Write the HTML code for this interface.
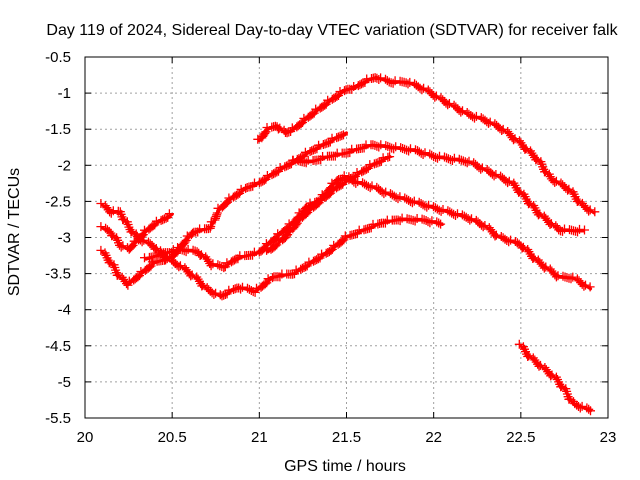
<!DOCTYPE html>
<html><head><meta charset="utf-8"><style>
body{margin:0;background:#fff;}
svg{display:block;font-family:"Liberation Sans",sans-serif;}
</style></head><body>
<svg id="chart" width="640" height="480" viewBox="0 0 640 480">
<rect width="640" height="480" fill="#fff"/>
<text x="332" y="35" font-size="16" text-anchor="middle">Day 119 of 2024, Sidereal Day-to-day VTEC variation (SDTVAR) for receiver falk</text>
<text transform="translate(19,232) rotate(-90)" font-size="16" text-anchor="middle">SDTVAR / TECUs</text>
<text x="345" y="471" font-size="16" text-anchor="middle">GPS time / hours</text>
<g id="grid"></g>
<g id="axes"></g>
<g id="series"></g>
</svg>
<script>
const xTicks=[20,20.5,21,21.5,22,22.5,23];
const xTickLabels=["20","20.5","21","21.5","22","22.5","23"];
const yTicks=[-0.5,-1,-1.5,-2,-2.5,-3,-3.5,-4,-4.5,-5,-5.5];
const yTickLabels=["-0.5","-1","-1.5","-2","-2.5","-3","-3.5","-4","-4.5","-5","-5.5"];
const t1x=[21.0,21.05,21.1,21.15,21.2,21.3,21.4,21.5,21.55,21.6,21.67,21.75,21.85,21.95,22.05,22.2,22.3,22.4,22.5,22.6,22.67,22.78,22.85,22.92];
const t1y=[-1.66,-1.5,-1.45,-1.56,-1.5,-1.3,-1.12,-0.95,-0.93,-0.85,-0.78,-0.85,-0.85,-0.95,-1.1,-1.3,-1.38,-1.51,-1.7,-1.93,-2.18,-2.34,-2.55,-2.66];
const t2x=[20.1,20.15,20.2,20.25,20.3,20.4,20.5,20.55,20.62,20.72,20.77,20.83,20.93,21.0,21.1,21.2,21.3,21.4,21.5,21.6,21.65,21.75,21.9,22.0,22.2,22.35,22.45,22.5,22.6,22.72,22.86];
const t2y=[-3.2,-3.35,-3.55,-3.65,-3.55,-3.35,-3.27,-3.13,-2.93,-2.87,-2.62,-2.48,-2.31,-2.25,-2.09,-1.95,-1.95,-1.88,-1.83,-1.75,-1.72,-1.75,-1.8,-1.88,-1.95,-2.13,-2.25,-2.38,-2.66,-2.9,-2.91];
const t3x=[21.2,21.3,21.4,21.5];
const t3y=[-1.95,-1.8,-1.68,-1.55];
const t4x=[20.1,20.15,20.2,20.25,20.3,20.4,20.47,20.55,20.65,20.7,20.78,20.88,20.98,21.08,21.2,21.3,21.4,21.5,21.6,21.7,21.8,21.95,22.05];
const t4y=[-2.55,-2.65,-2.65,-2.85,-3.0,-3.13,-3.3,-3.4,-3.59,-3.72,-3.82,-3.69,-3.75,-3.55,-3.5,-3.35,-3.2,-3.0,-2.9,-2.8,-2.75,-2.76,-2.82];
const t5x=[20.1,20.15,20.2,20.25,20.3,20.35,20.4,20.45,20.5];
const t5y=[-2.87,-2.93,-3.1,-3.17,-3.05,-2.92,-2.82,-2.75,-2.68];
const t6x=[20.35,20.45,20.55,20.65,20.73,20.8,20.87,21.0,21.08,21.2,21.27,21.35,21.45,21.5,21.55,21.65,21.75,22.0,22.2,22.3,22.37,22.5,22.6,22.72,22.8,22.9];
const t6y=[-3.3,-3.22,-3.17,-3.2,-3.38,-3.41,-3.29,-3.21,-3.04,-2.79,-2.58,-2.48,-2.2,-2.16,-2.23,-2.3,-2.41,-2.59,-2.73,-2.85,-2.99,-3.1,-3.34,-3.55,-3.56,-3.71];
const t7x=[21.05,21.15,21.25,21.35,21.45,21.55,21.65,21.75];
const t7y=[-3.2,-3.0,-2.71,-2.5,-2.3,-2.15,-2.0,-1.88];
const t8x=[22.5,22.55,22.6,22.7,22.75,22.8,22.9];
const t8y=[-4.5,-4.65,-4.75,-4.95,-5.1,-5.3,-5.4];

const L=85,R=608,T=57,B=418;
const xs=v=>L+(v-20)/3*(R-L);
const ys=v=>T+(-0.5-v)/5*(B-T);
const NS="http://www.w3.org/2000/svg";
function mk(tag,attrs,parent){const e=document.createElementNS(NS,tag);for(const k in attrs)e.setAttribute(k,attrs[k]);parent.appendChild(e);return e;}
const grid=document.getElementById('grid'),axes=document.getElementById('axes'),ser=document.getElementById('series');
xTicks.forEach((v,i)=>{const x=xs(v);
 if(i>0&&i<xTicks.length-1){const g=mk('line',{x1:x,x2:x,y1:T,y2:B,stroke:'#a0a0a0','stroke-dasharray':'2,3'},grid);
 
 }
 mk('line',{x1:x,x2:x,y1:B,y2:B-6,stroke:'#000'},axes);
 mk('line',{x1:x,x2:x,y1:T,y2:T+6,stroke:'#000'},axes);
 const t=mk('text',{x:x,y:B+24,'font-size':15,'text-anchor':'middle'},axes);t.textContent=xTickLabels[i];
 
 
});
yTicks.forEach((v,i)=>{const y=ys(v);
 if(i>0&&i<yTicks.length-1){const g=mk('line',{x1:L,x2:R,y1:y,y2:y,stroke:'#a0a0a0','stroke-dasharray':'2,3'},grid);
 
 }
 mk('line',{x1:L,x2:L+6,y1:y,y2:y,stroke:'#000'},axes);
 mk('line',{x1:R,x2:R-6,y1:y,y2:y,stroke:'#000'},axes);
 const t=mk('text',{x:L-14,y:y+5,'font-size':15,'text-anchor':'end'},axes);t.textContent=yTickLabels[i];
 
 
});
const fr=mk('rect',{x:L,y:T,width:R-L,height:B-T,fill:'none',stroke:'#000'},axes);


const traces=[[t1x,t1y],[t2x,t2y],[t3x,t3y],[t4x,t4y],[t5x,t5y],[t6x,t6y],[t7x,t7y],[t8x,t8y]];
traces.forEach((tr,k)=>{
 const [X,Y]=tr;
 const g=mk('g',{},ser);
 
 
 const pts=X.map((v,i)=>xs(v).toFixed(1)+','+ys(Y[i]).toFixed(1)).join(' ');
 const pl=mk('polyline',{points:pts,fill:'none',stroke:'#f00','stroke-width':3,'stroke-linejoin':'round','stroke-linecap':'round'},g);
 let d='';
 const len=pl.getTotalLength();
 for(let s=0;s<=len;s+=2.5){const p=pl.getPointAtLength(s);const ox=((s*7)%3)-1.5,oy=((s*5)%3)-1.5;const x=p.x+ox,y=p.y+oy;d+=`M${(x-4.5).toFixed(1)},${y.toFixed(1)}h9M${x.toFixed(1)},${(y-4.5).toFixed(1)}v9`;}
 mk('path',{d:d,stroke:'#f00','stroke-width':1.3,fill:'none'},g);
});
</script>
</body></html>
